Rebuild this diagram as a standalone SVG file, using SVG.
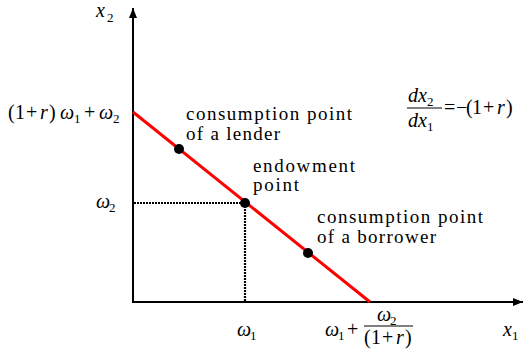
<svg xmlns="http://www.w3.org/2000/svg" width="524" height="354" viewBox="0 0 524 354">
<defs>
<marker id="arr" viewBox="0 0 10 8" refX="10" refY="4" markerWidth="10" markerHeight="8" markerUnits="userSpaceOnUse" orient="auto">
<path d="M0,0 L10,4 L0,8 Z" fill="#000"/>
</marker>
</defs>
<g id="axes" stroke="#000" stroke-width="2" fill="none">
<line x1="133" y1="302" x2="133" y2="8" marker-end="url(#arr)"/>
<line x1="132" y1="302" x2="523" y2="302" marker-end="url(#arr)"/>
</g>
<g id="connectors">
<line x1="133" y1="112" x2="370" y2="302" stroke="#ff0000" stroke-width="3"/>
<path d="M134,203 H245 V301" stroke="#000" stroke-width="2.2" stroke-dasharray="2 1" fill="none"/>
</g>
<g id="lender" font-family="Liberation Serif, serif" font-size="19">
<circle cx="179" cy="149" r="5" fill="#000"/>
<text x="186" y="120" textLength="166" lengthAdjust="spacing">consumption point</text>
<text x="186" y="140" textLength="94" lengthAdjust="spacing">of a lender</text>
</g>
<g id="endowment" font-family="Liberation Serif, serif" font-size="19">
<circle cx="245" cy="203" r="5" fill="#000"/>
<text x="253" y="172" textLength="102" lengthAdjust="spacing">endowment</text>
<text x="253" y="191" textLength="46" lengthAdjust="spacing">point</text>
</g>
<g id="borrower" font-family="Liberation Serif, serif" font-size="19">
<circle cx="308" cy="253" r="5" fill="#000"/>
<text x="317" y="223" textLength="166" lengthAdjust="spacing">consumption point</text>
<text x="317" y="243" textLength="119" lengthAdjust="spacing">of a borrower</text>
</g>
<g id="labels" font-family="Liberation Serif, serif" font-size="20">
<text x="96" y="17"><tspan font-style="italic">x</tspan><tspan font-size="13" x="107" y="22">2</tspan></text>
<text y="119"><tspan x="8">(</tspan><tspan x="15">1</tspan><tspan x="26">+</tspan><tspan font-style="italic" x="40">r</tspan><tspan x="49">)</tspan><tspan font-style="italic" x="60">ω</tspan><tspan font-size="13" x="74" y="123">1</tspan><tspan x="84" y="119">+</tspan><tspan font-style="italic" x="99">ω</tspan><tspan font-size="13" x="113" y="123">2</tspan></text>
<text y="208"><tspan font-style="italic" x="96">ω</tspan><tspan font-size="13" x="109" y="212">2</tspan></text>
<text y="336"><tspan font-style="italic" x="237">ω</tspan><tspan font-size="13" x="250" y="340">1</tspan></text>
<text y="336"><tspan font-style="italic" x="325">ω</tspan><tspan font-size="13" x="338" y="340">1</tspan><tspan x="347" y="336">+</tspan></text>
<line x1="364" y1="326" x2="413" y2="326" stroke="#000" stroke-width="1"/>
<text y="321"><tspan font-style="italic" x="377">ω</tspan><tspan font-size="13" x="390" y="325">2</tspan></text>
<text y="344"><tspan x="364">(</tspan><tspan x="371">1</tspan><tspan x="382">+</tspan><tspan font-style="italic" x="396">r</tspan><tspan x="405">)</tspan></text>
<text y="336"><tspan font-style="italic" x="503">x</tspan><tspan font-size="13" x="512" y="340">1</tspan></text>
<text y="102"><tspan font-style="italic" x="408">dx</tspan><tspan font-size="13" x="427" y="106">2</tspan></text>
<line x1="407" y1="108" x2="442" y2="108" stroke="#000" stroke-width="1"/>
<text y="127"><tspan font-style="italic" x="408">dx</tspan><tspan font-size="13" x="427" y="131">1</tspan></text>
<text y="114"><tspan x="444">=</tspan><tspan x="456">−</tspan><tspan x="466">(</tspan><tspan x="472">1</tspan><tspan x="483">+</tspan><tspan font-style="italic" x="497">r</tspan><tspan x="506">)</tspan></text>
</g>
</svg>
